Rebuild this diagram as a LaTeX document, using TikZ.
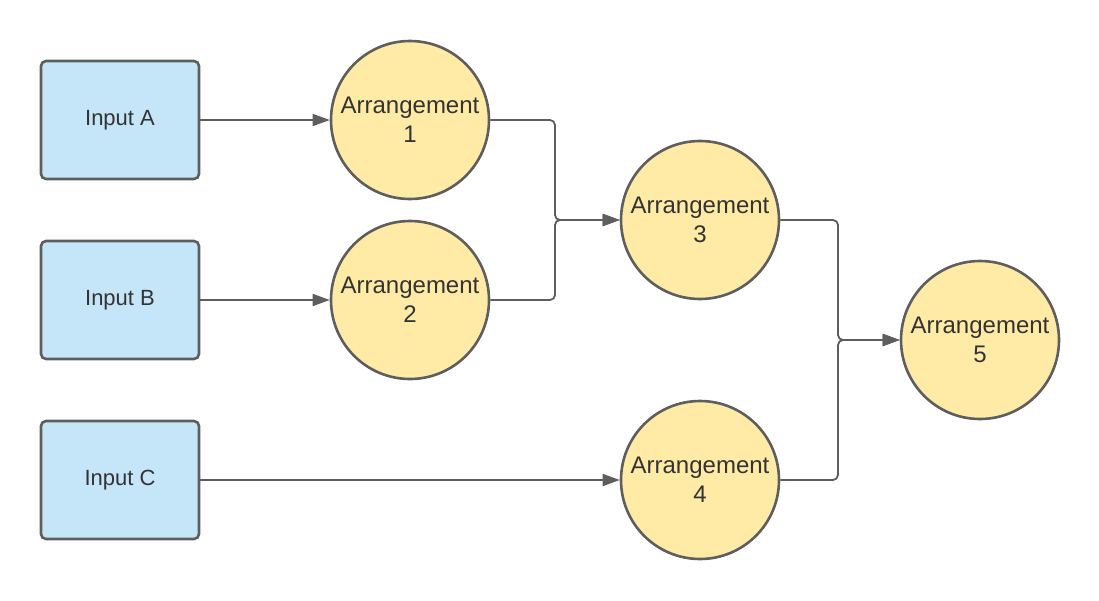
\documentclass[tikz,border=0pt]{standalone}
\usepackage{fontspec}
\setmainfont{Liberation Sans}
\usetikzlibrary{arrows.meta}
\definecolor{edge}{HTML}{5E5E5E}
\definecolor{boxfill}{HTML}{C5E5F8}
\definecolor{circfill}{HTML}{FFEBA6}
\definecolor{txt}{HTML}{333333}
\begin{document}
\begin{tikzpicture}[x=1pt,y=-1pt,
  inbox/.style={draw=edge,line width=2.6pt,fill=boxfill,rounded corners=5pt,
    minimum width=158pt,minimum height=118pt,inner sep=0pt,text=txt,
    font=\fontsize{22}{26}\selectfont},
  arr/.style={circle,draw=edge,line width=2.6pt,fill=circfill,minimum size=158pt,
    inner sep=0pt,text=txt,align=center,font=\fontsize{24}{29}\selectfont},
  conn/.style={draw=edge,line width=1.8pt,rounded corners=5pt,
    -{Triangle[length=17pt,width=12pt]}}]
\useasboundingbox (0,0) rectangle (1099,600);
\node[inbox] (ia) at (120,120) {Input A};
\node[inbox] (ib) at (120,300) {Input B};
\node[inbox] (ic) at (120,480) {Input C};
\node[arr] (a1) at (410,120) {Arrangement\\1};
\node[arr] (a2) at (410,300) {Arrangement\\2};
\node[arr] (a3) at (700,220) {Arrangement\\3};
\node[arr] (a4) at (700,480) {Arrangement\\4};
\node[arr] (a5) at (980,340) {Arrangement\\5};
\coordinate (j1) at (555,220);
\coordinate (j2) at (838,340);
\draw[conn] (ia.east) -- (a1.west);
\draw[conn] (ib.east) -- (a2.west);
\draw[conn] (ic.east) -- (a4.west);
\draw[conn] (a1.east) -| (j1) -- (a3.west);
\draw[conn] (a2.east) -| (j1) -- (a3.west);
\draw[conn] (a3.east) -| (j2) -- (a5.west);
\draw[conn] (a4.east) -| (j2) -- (a5.west);
\end{tikzpicture}
\end{document}
